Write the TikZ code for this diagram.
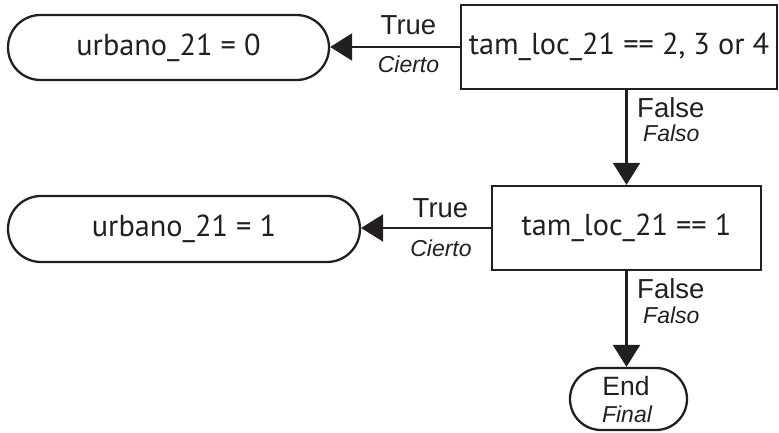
\documentclass[tikz,border=0pt]{standalone}
\usepackage{fontspec}
\setmainfont{Liberation Sans}
\newfontfamily\boxfont{PT Sans}
\usetikzlibrary{arrows.meta,shapes.misc,calc}
\definecolor{ink}{RGB}{35,31,32}
\begin{document}
\begin{tikzpicture}[x=1pt,y=-1pt,
  box/.style={draw=ink,line width=2.3pt,inner sep=0pt,text=ink,font=\boxfont\fontsize{30.3}{33}\selectfont},
  decision/.style={box,rectangle},
  pill/.style={box,rounded rectangle},
  lbl/.style={inner sep=0pt,anchor=base,text=ink,font=\fontsize{27.5}{30}\selectfont},
  sublbl/.style={inner sep=0pt,anchor=base,text=ink,font=\itshape\fontsize{23}{26}\selectfont},
  flow/.style={draw=ink,line width=2.3pt,-{Triangle[length=22pt,width=27pt]}}]
\useasboundingbox (0,0) rectangle (779,433);
% nodes
\node[pill,minimum width=321,minimum height=65] (n1) at (168.5,47.5) {urbano\_21 = 0};
\node[decision,minimum width=316,minimum height=84] (box2) at (619,47) {tam\_loc\_21 == 2, 3 or 4};
\node[pill,minimum width=352,minimum height=66] (n2) at (184,229) {urbano\_21 = 1};
\node[decision,minimum width=269,minimum height=84] (box3) at (626.5,228) {tam\_loc\_21 == 1};
\node[pill,minimum width=117,minimum height=62] (endn) at (628.5,399) {};
\node[lbl,font=\fontsize{26.5}{30}\selectfont] (endt) at (626,395) {End};
\node[sublbl] (endf) at (627,422) {Final};
% connectors
\draw[flow] (box2.west) -- (box2.west -| n1.east);
\draw[flow] (box2.south -| box3.north) -- (box3.north);
\draw[flow] (box3.west) -- (box3.west -| n2.east);
\draw[flow] (box3.south) -- (box3.south |- endn.north);
% labels
\node[lbl] (t1) at (408.5,35) {True};
\node[sublbl] (c1) at (408.5,73) {Cierto};
\node[lbl,anchor=base west] (f1) at (637,118) {False};
\node[sublbl,anchor=base west] (fa1) at (643,142) {Falso};
\node[lbl] (t2) at (440.5,217) {True};
\node[sublbl] (c2) at (441,256) {Cierto};
\node[lbl,anchor=base west] (f2) at (637,298) {False};
\node[sublbl,anchor=base west] (fa2) at (643,323) {Falso};
\end{tikzpicture}
\end{document}
